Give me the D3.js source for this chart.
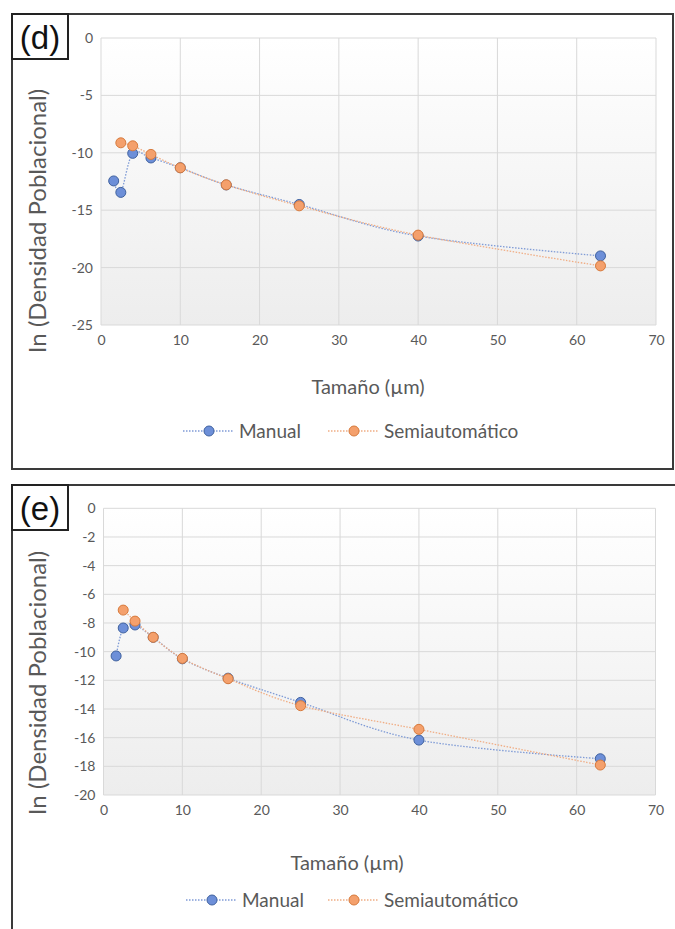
<!DOCTYPE html>
<html>
<head>
<meta charset="utf-8">
<script src="https://cdn.jsdelivr.net/npm/d3@7"></script>
<style>
  body { margin: 0; background: #fff; }
  svg { display: block; }
</style>
</head>
<body>
<div id="vis"></div>
<script>
// particle sizes (µm)
const sizes = [1.6, 2.5, 4, 6.3, 10, 15.8, 25, 40, 63];
const sizesSemi = [2.5, 4, 6.3, 10, 15.8, 25, 40, 63];

// panel (d)
const manualD = [-12.45, -13.45, -10.05, -10.45, -11.3, -12.8, -14.5, -17.25, -18.98];
const semiD = [-9.13, -9.39, -10.14, -11.31, -12.79, -14.62, -17.17, -19.85];
const yTicksD = [0, -5, -10, -15, -20, -25];

// panel (e)
const manualE = [-10.3, -8.35, -8.14, -9.0, -10.5, -11.85, -13.54, -16.17, -17.47];
const semiE = [-7.1, -7.87, -9.0, -10.47, -11.89, -13.77, -15.42, -17.91];
const yTicksE = [0, -2, -4, -6, -8, -10, -12, -14, -16, -18, -20];

const xTicks = [0, 10, 20, 30, 40, 50, 60, 70];
const seriesNames = ["Manual", "Semiautomático"];

const W = 675, H = 929;
const svg = d3.select("#vis").append("svg")
  .attr("width", W)
  .attr("height", H);

const defs = svg.append("defs");
const grad = defs.append("linearGradient")
  .attr("id", "plotbg")
  .attr("x1", 0).attr("y1", 0).attr("x2", 0).attr("y2", 1);
grad.append("stop").attr("offset", "0%").attr("stop-color", "#ffffff");
grad.append("stop").attr("offset", "100%").attr("stop-color", "#ededed");

const blue = { line: "#7f9bd6", fill: "#6d8fd8", stroke: "#40629f" };
const orange = { line: "#f0ad84", fill: "#f4a06c", stroke: "#d77a3c" };

// Excel writes a plain hyphen for negatives
const fmt = d => String(d);

function drawPanel(p) {
  const x = d3.scaleLinear().domain([0, 70]).range([p.left, p.right]);
  const y = d3.scaleLinear().domain([p.yMin, 0]).range([p.bottom, p.top]);

  // frame
  if (p.frame) {
    svg.append("rect")
      .attr("x", p.frame.x).attr("y", p.frame.y)
      .attr("width", p.frame.w).attr("height", p.frame.h)
      .attr("fill", "none")
      .attr("stroke", "#3a3a3a")
      .attr("stroke-width", 2);
  }

  // plot area background
  svg.append("rect")
    .attr("x", p.left).attr("y", p.top)
    .attr("width", p.right - p.left).attr("height", p.bottom - p.top)
    .attr("fill", "url(#plotbg)");

  // grid
  svg.append("g").selectAll("line")
    .data(p.yTicks).enter().append("line")
    .attr("x1", p.left).attr("x2", p.right)
    .attr("y1", d => y(d)).attr("y2", d => y(d))
    .attr("stroke", "#d9d9d9").attr("stroke-width", 1);

  svg.append("g").selectAll("line")
    .data(xTicks).enter().append("line")
    .attr("x1", d => x(d)).attr("x2", d => x(d))
    .attr("y1", p.top).attr("y2", p.bottom)
    .attr("stroke", "#d9d9d9").attr("stroke-width", 1);

  // axes (labels only, Excel style)
  const yAxis = svg.append("g")
    .attr("transform", `translate(${p.left - 8},0)`)
    .call(d3.axisLeft(y).tickValues(p.yTicks).tickSize(0).tickFormat(fmt));
  yAxis.select(".domain").remove();
  yAxis.selectAll("text")
    .attr("font-family", "Lato, sans-serif")
    .attr("font-size", 14)
    .attr("fill", "#595959")
    .attr("x", 0);

  const xAxis = svg.append("g")
    .attr("transform", `translate(0,${p.bottom + 8})`)
    .call(d3.axisBottom(x).tickValues(xTicks).tickSize(0).tickFormat(fmt));
  xAxis.select(".domain").remove();
  xAxis.selectAll("text")
    .attr("font-family", "Lato, sans-serif")
    .attr("font-size", 14)
    .attr("fill", "#595959")
    .attr("y", 2);

  // series
  const line = d3.line()
    .x(d => x(d[0]))
    .y(d => y(d[1]))
    .curve(d3.curveCatmullRom.alpha(0));

  const series = [
    { pts: d3.zip(sizes, p.manual), c: blue },
    { pts: d3.zip(sizesSemi, p.semi), c: orange }
  ];

  series.forEach(s => {
    svg.append("path")
      .datum(s.pts)
      .attr("fill", "none")
      .attr("stroke", s.c.line)
      .attr("stroke-width", 1.3)
      .attr("stroke-dasharray", "1.5,1.5")
      .attr("d", line);
  });
  series.forEach(s => {
    svg.append("g").selectAll("circle")
      .data(s.pts).enter().append("circle")
      .attr("cx", d => x(d[0]))
      .attr("cy", d => y(d[1]))
      .attr("r", 5)
      .attr("fill", s.c.fill)
      .attr("stroke", s.c.stroke)
      .attr("stroke-width", 1);
  });

  // axis titles
  svg.append("text")
    .attr("x", p.xTitle[0]).attr("y", p.xTitle[1])
    .attr("text-anchor", "middle")
    .attr("font-family", "Lato, sans-serif")
    .attr("font-size", 20)
    .attr("fill", "#595959")
    .text("Tamaño (µm)");

  svg.append("text")
    .attr("transform", `translate(${p.yTitle[0]},${p.yTitle[1]}) rotate(-90)`)
    .attr("text-anchor", "middle")
    .attr("font-family", "Lato, sans-serif")
    .attr("font-size", 24)
    .attr("fill", "#595959")
    .text("In (Densidad Poblacional)");

  // legend
  const lg = svg.append("g").attr("transform", `translate(0,${p.legendY})`);
  [[p.legendX[0], blue], [p.legendX[1], orange]].forEach(([lx, c], i) => {
    lg.append("line")
      .attr("x1", lx - 26).attr("x2", lx + 24)
      .attr("y1", 0).attr("y2", 0)
      .attr("stroke", c.line)
      .attr("stroke-width", 1.3)
      .attr("stroke-dasharray", "1.5,1.5");
    lg.append("circle")
      .attr("cx", lx).attr("cy", 0).attr("r", 5)
      .attr("fill", c.fill).attr("stroke", c.stroke);
    lg.append("text")
      .attr("x", lx + 30).attr("y", 7)
      .attr("font-family", "Lato, sans-serif")
      .attr("font-size", 19)
      .attr("fill", "#595959")
      .text(seriesNames[i]);
  });

  // panel label box
  svg.append("rect")
    .attr("x", p.tag[0]).attr("y", p.tag[1])
    .attr("width", 56).attr("height", 45)
    .attr("fill", "#fff")
    .attr("stroke", "#222")
    .attr("stroke-width", 2);
  svg.append("text")
    .attr("x", p.tag[0] + 28).attr("y", p.tag[1] + 35)
    .attr("text-anchor", "middle")
    .attr("font-family", "Liberation Sans, Arial, sans-serif")
    .attr("font-size", 33)
    .attr("fill", "#111")
    .text(p.label);
}

drawPanel({
  label: "(d)",
  left: 101, right: 656, top: 38, bottom: 325,
  yMin: -25, yTicks: yTicksD,
  manual: manualD, semi: semiD,
  frame: { x: 12, y: 14, w: 661, h: 455 },
  xTitle: [368, 394], yTitle: [46, 221],
  legendY: 431, legendX: [209, 354],
  tag: [12, 14]
});

drawPanel({
  label: "(e)",
  left: 103.5, right: 655.5, top: 508.3, bottom: 795,
  yMin: -20, yTicks: yTicksE,
  manual: manualE, semi: semiE,
  frame: { x: 12, y: 485, w: 700, h: 500 },
  xTitle: [347, 870], yTitle: [46, 683],
  legendY: 900, legendX: [212, 354],
  tag: [12, 485]
});
</script>
</body>
</html>
